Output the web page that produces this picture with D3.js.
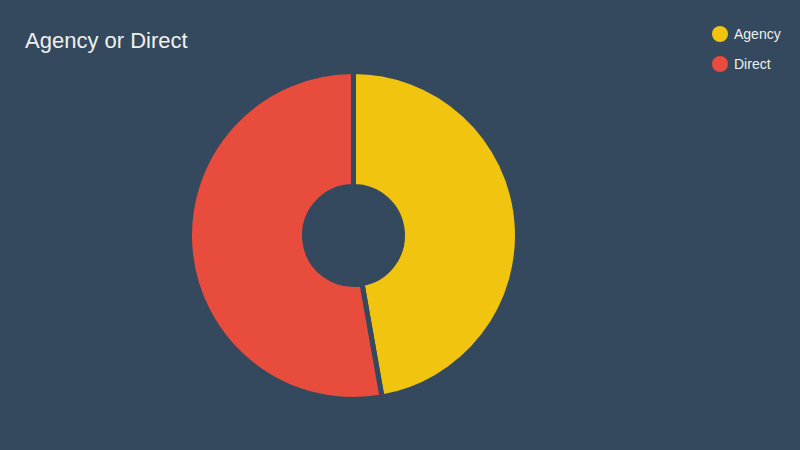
<!DOCTYPE html>
<html><head><meta charset="utf-8">
<script src="https://cdn.jsdelivr.net/npm/d3@7"></script>
<style>html,body{margin:0;padding:0;background:#34495e;}svg{display:block;}</style>
</head><body>
<svg id="c" width="800" height="450"></svg>
<script>
const categories = ["Agency", "Direct"];
const values = [17, 19];
const colors = ["#f1c40f", "#e74c3c"];
const title = "Agency or Direct";

const svg = d3.select("#c");
const W = 800, H = 450, bg = "#34495e";
svg.append("rect").attr("width", W).attr("height", H).attr("fill", bg);

svg.append("text").attr("x", 25).attr("y", 48)
  .attr("font-family", "Liberation Sans, Arial, sans-serif")
  .attr("font-size", 22).attr("fill", "#f0f0f0").text(title);

const color = d3.scaleOrdinal().domain(categories).range(colors);
const pie = d3.pie().sort(null).value(d => d.v);
const data = categories.map((c, i) => ({c, v: values[i]}));
const arc = d3.arc().innerRadius(49).outerRadius(164);

const g = svg.append("g").attr("transform", "translate(353.5,235.5)");
g.selectAll("path").data(pie(data)).join("path")
  .attr("d", arc).attr("fill", d => color(d.data.c))
  .attr("stroke", bg).attr("stroke-width", 5).attr("stroke-linejoin", "miter");

const leg = svg.append("g");
categories.forEach((c, i) => {
  const y = 34 + i * 30;
  leg.append("circle").attr("cx", 720).attr("cy", y).attr("r", 8).attr("fill", color(c));
  leg.append("text").attr("x", 734).attr("y", y + 5)
    .attr("font-family", "Liberation Sans, Arial, sans-serif")
    .attr("font-size", 14).attr("fill", "#f0f0f0").text(c);
});
</script>
</body></html>
